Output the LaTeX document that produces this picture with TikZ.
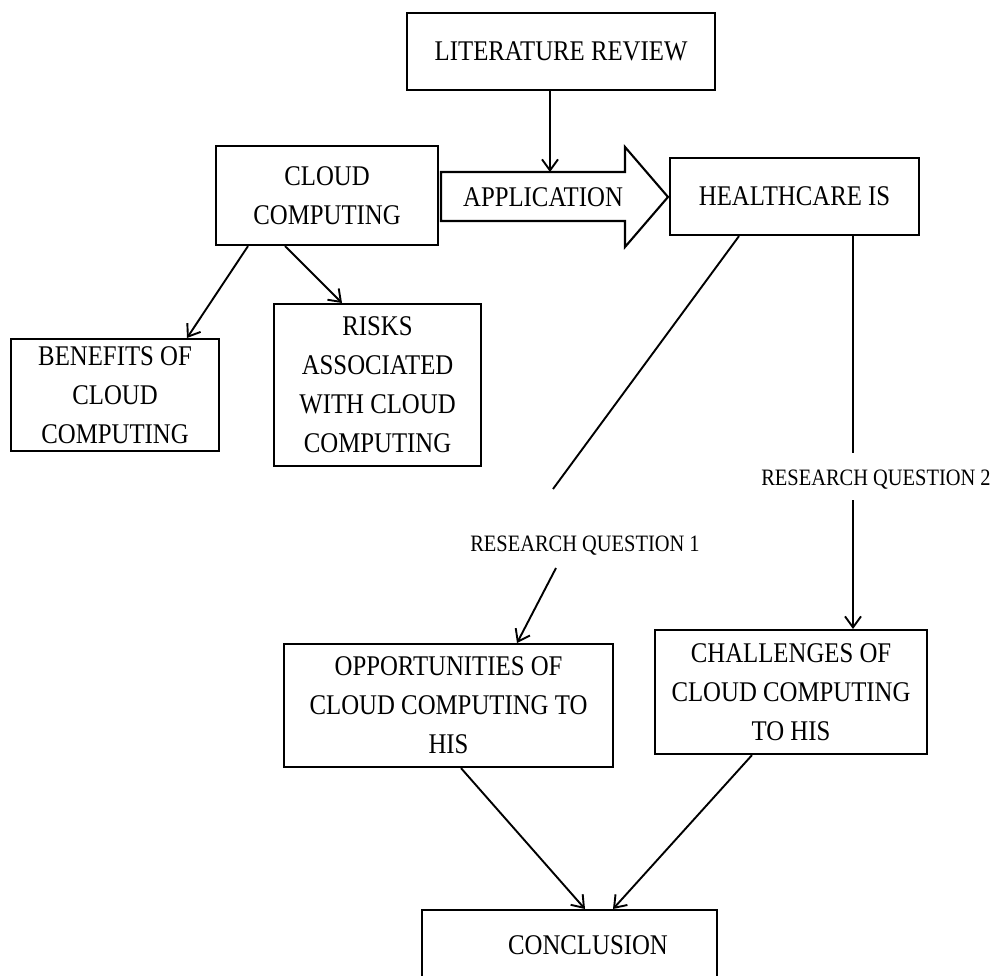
\documentclass[tikz,border=0pt]{standalone}
\usepackage{fontspec}
\setmainfont{Liberation Serif}[FakeStretch=0.87]
\usetikzlibrary{arrows.meta}
\newcommand{\boxfont}{\fontsize{28.5}{39}\selectfont}
\newcommand{\qfont}{\fontsize{23.5}{28}\selectfont}
\begin{document}
\begin{tikzpicture}[x=1pt,y=-1pt,
  box/.style={draw, line width=2.1pt, rectangle, inner sep=0pt,
              anchor=north west, align=center, font=\boxfont},
  arr/.style={line width=1.9pt, -{Straight Barb[length=11pt,width=16pt,line width=1.9pt]}},
  plain/.style={line width=1.9pt},
  qlabel/.style={font=\qfont, inner sep=0pt}]
\useasboundingbox (0,0) rectangle (998,976);
\clip (0,0) rectangle (998,976);
\fill[white] (0,0) rectangle (998,976);

% boxes
\node[box, minimum width=308pt, minimum height=77pt] (lit) at (406,12) {LITERATURE REVIEW};
\node[box, minimum width=222pt, minimum height=99pt] (cloud) at (215,145) {CLOUD\\COMPUTING};
\node[box, minimum width=249pt, minimum height=77pt] (health) at (669,157) {HEALTHCARE IS};
\node[box, minimum width=208pt, minimum height=112pt] (benefits) at (10,338) {BENEFITS OF\\CLOUD\\COMPUTING};
\node[box, minimum width=207pt, minimum height=162pt] (risks) at (273,303) {RISKS\\ASSOCIATED\\WITH CLOUD\\COMPUTING};
\node[box, minimum width=329pt, minimum height=123pt] (opp) at (283,643) {OPPORTUNITIES OF\\CLOUD COMPUTING TO\\HIS};
\node[box, minimum width=272pt, minimum height=124pt] (chal) at (654,629) {CHALLENGES OF\\CLOUD COMPUTING\\TO HIS};
\node[box, minimum width=295pt, minimum height=140pt] (conc) at (421,909) {};
\node[font=\boxfont, inner sep=0pt] (conctext) at (588,945) {CONCLUSION};

% block arrow carrying the APPLICATION label
\draw[line width=2.1pt, fill=white, line join=miter]
  (441,172) -- (625,172) -- (625,147) -- (668,197) -- (625,247) -- (625,221) -- (441,221) -- cycle;
\node[font=\boxfont, inner sep=0pt] (app) at (543,197) {APPLICATION};
\coordinate (apptop) at (550,172);

% connectors
\draw[arr] (lit.south -| apptop) -- (apptop);
\draw[arr] ([xshift=33pt]cloud.south west) -- ([xshift=177pt]benefits.north west);
\draw[arr] ([xshift=70pt]cloud.south west) -- ([xshift=69pt]risks.north west);

% research question 1
\node[qlabel] (rq1) at (585,546) {RESEARCH QUESTION 1};
\coordinate (rq1a) at (553,489);
\coordinate (rq1b) at (556,568);
\draw[plain] ([xshift=70pt]health.south west) -- (rq1a);
\draw[arr] (rq1b) -- ([xshift=234pt]opp.north west);

% research question 2
\node[qlabel] (rq2) at (876,480) {RESEARCH QUESTION 2};
\coordinate (rq2a) at (853,453);
\coordinate (rq2b) at (853,500);
\draw[plain] ([xshift=184pt]health.south west) -- (rq2a);
\draw[arr] (rq2b) -- ([xshift=199pt]chal.north west);

% into the conclusion
\draw[arr] ([xshift=178pt]opp.south west) -- ([xshift=164pt]conc.north west);
\draw[arr] ([xshift=98pt]chal.south west) -- ([xshift=192pt]conc.north west);
\end{tikzpicture}
\end{document}
